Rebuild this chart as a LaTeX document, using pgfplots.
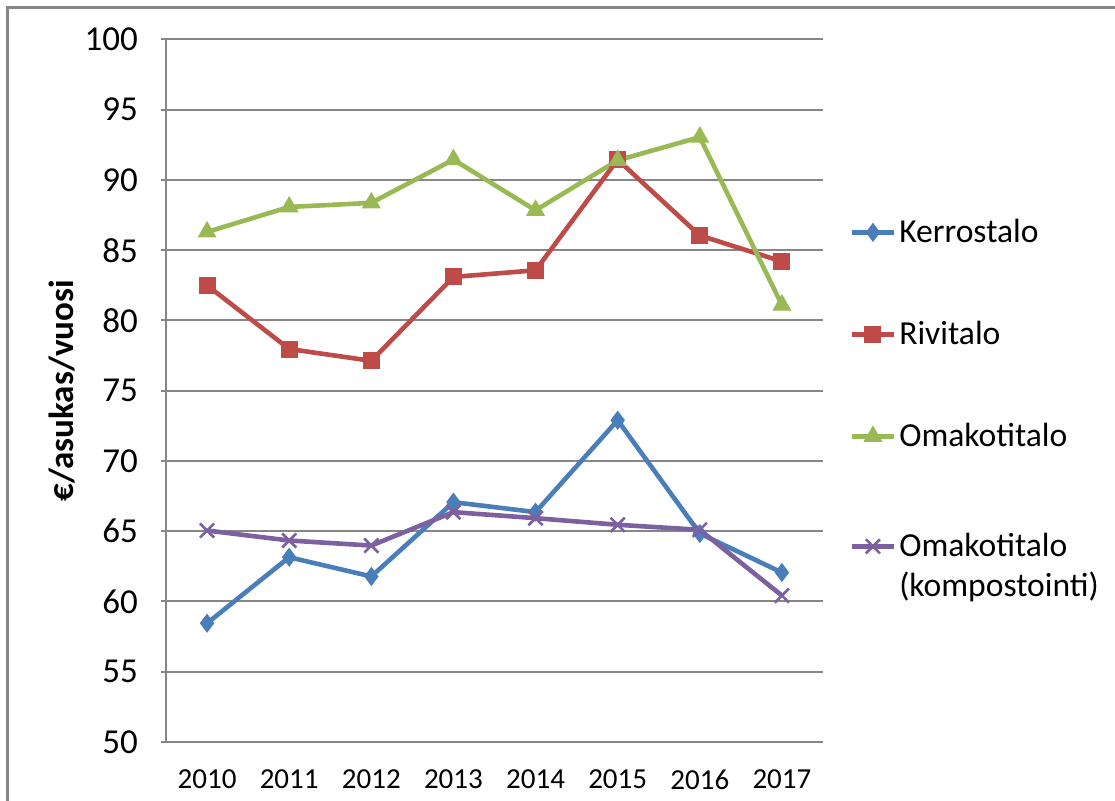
\documentclass[border=0pt]{standalone}
\usepackage{pgfplots}
\pgfplotsset{compat=1.18}
\usepackage{fontspec}
\setmainfont{Carlito}
\definecolor{cBlue}{HTML}{4A7EBB}
\definecolor{cRed}{HTML}{BE4B48}
\definecolor{cGreen}{HTML}{98B954}
\definecolor{cPurple}{HTML}{7D60A0}
\definecolor{cGrid}{HTML}{868686}

\begin{document}
\begin{tikzpicture}
\useasboundingbox (0,0) rectangle (557.5pt,400.5pt);
% outer chart frame (cut at right and bottom)
\draw[cGrid, line width=1.5pt] (3.5pt,-20pt) -- (3.5pt,396.5pt) -- (620pt,396.5pt);
\begin{axis}[
  at={(83pt,29.5pt)}, anchor=south west,
  scale only axis, width=328.5pt, height=351.25pt,
  xmin=-0.5, xmax=7.5, ymin=50, ymax=100,
  xtick={0,...,7}, xticklabels={2010,2011,2012,2013,2014,2015,2016,2017},
  ytick={50,55,...,100},
  axis lines*=left,
  axis line style={cGrid, line width=1pt},
  ymajorgrids, grid style={cGrid, line width=1pt},
  tick align=outside, major tick length=2.5pt,
  x tick style={draw=none}, y tick style={cGrid, line width=1pt},
  /pgf/number format/assume math mode=true,
  yticklabel style={font=\fontsize{17.5}{20}\selectfont, xshift=-8pt},
  xticklabel style={font=\fontsize{14.5}{17}\selectfont, yshift=-8pt},
  ylabel={\bfseries €/asukas/vuosi},
  every axis y label/.style={at={(axis description cs:-0.158,0.5)}, rotate=90, anchor=center, font=\fontsize{17.5}{20}\selectfont},
  legend image code/.code={\draw[mark repeat=2,mark phase=2] plot coordinates {(0pt,0pt)(10.5pt,0pt)(21pt,0pt)};},
  legend style={at={(axis description cs:1.04,0.7986)}, anchor=north west, draw=none, fill=none,
    font=\fontsize{16.8}{20}\selectfont, inner sep=0pt, row sep=0pt,
    nodes={inner sep=1.5pt, text height=29pt, text depth=19pt}},
  legend cell align=left,
]
\addplot[cBlue, line width=2.3pt, mark=diamond*, mark size=4.4pt, mark options={fill=cBlue, line width=0.5pt}]
coordinates {(0,58.45) (1,63.15) (2,61.78) (3,67.07) (4,66.36) (5,72.9) (6,64.84) (7,62.06)};
\addlegendentry{Kerrostalo}
\addplot[cRed, line width=2.3pt, mark=square*, mark size=4pt, mark options={fill=cRed, line width=0.5pt}]
coordinates {(0,82.5) (1,77.97) (2,77.13) (3,83.1) (4,83.57) (5,91.45) (6,86.05) (7,84.2)};
\addlegendentry{Rivitalo}
\addplot[cGreen, line width=2.3pt, mark=triangle*, mark size=5pt, mark options={fill=cGreen, line width=0.5pt}]
coordinates {(0,86.3) (1,88.08) (2,88.37) (3,91.45) (4,87.84) (5,91.4) (6,93.05) (7,81.1)};
\addlegendentry{Omakotitalo}
\addplot[cPurple, line width=2.3pt, mark=x, mark size=5pt, mark options={line width=1.3pt}]
coordinates {(0,65.05) (1,64.34) (2,63.98) (3,66.36) (4,65.93) (5,65.46) (6,65.1) (7,60.42)};
\addlegendentry[text height=33pt, text depth=23pt]{\begin{tabular}[t]{@{}l@{}}Omakotitalo\\(kompostointi)\end{tabular}}
\end{axis}
\end{tikzpicture}
\end{document}
